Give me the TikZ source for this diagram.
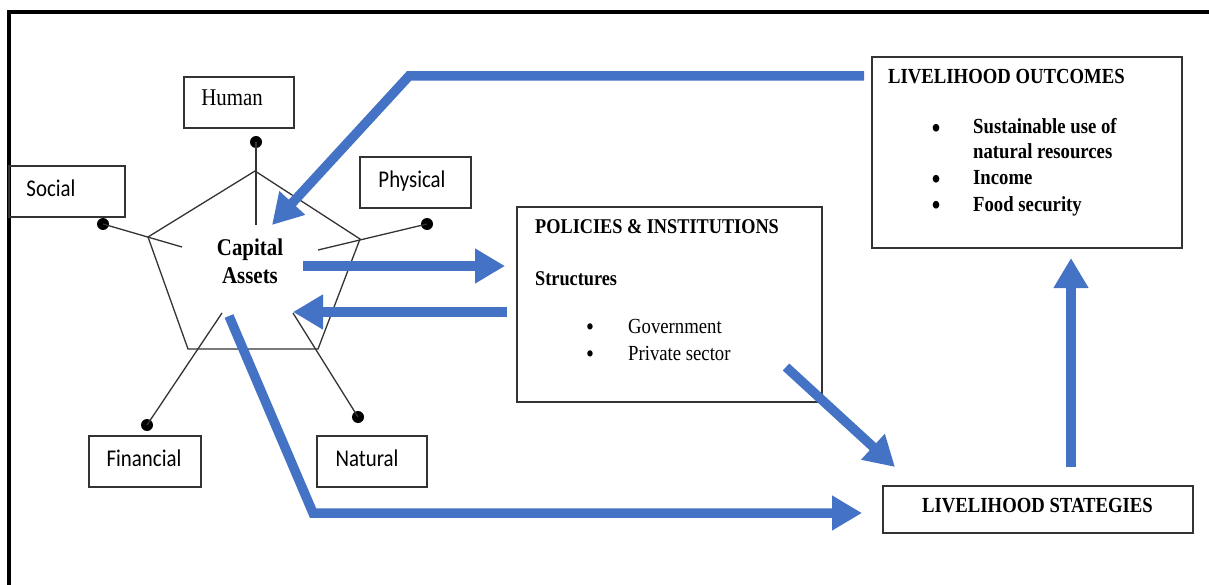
\documentclass[tikz,border=0pt]{standalone}
\usepackage{fontspec}
\setmainfont{Liberation Serif}[FakeStretch=0.87]
\newfontfamily\calib{Carlito}[FakeStretch=0.87]
\usetikzlibrary{arrows.meta}
\definecolor{arrowblue}{HTML}{4472C4}
\definecolor{boxgray}{HTML}{333333}
\begin{document}
\begin{tikzpicture}[x=1pt,y=-1pt,
  box/.style={draw=boxgray, line width=1.6pt, rectangle, inner sep=0pt},
  sanslbl/.style={inner sep=0pt, anchor=base, font=\calib\fontsize{24}{28}\selectfont},
  serlbl/.style={inner sep=0pt, anchor=base west, font=\fontsize{22}{26}\selectfont},
  bul/.style={inner sep=0pt, anchor=base, font=\bfseries\fontsize{28}{30}\selectfont},
  spoke/.style={draw=boxgray, line width=1.3pt},
  knob/.style={fill=black, circle, inner sep=0pt, minimum size=12pt},
  bluearrow/.style={draw=arrowblue, line width=9.5pt, miter limit=20, line join=miter,
    -{Triangle[length=30pt,width=33pt]}}]
\useasboundingbox (0,0) rectangle (1209,585);

% frame
\draw[line width=3.5pt] (9,585) -- (9,12) -- (1209,12);

% pentagon
\coordinate (p1) at (255,171);
\coordinate (p2) at (360,239);
\coordinate (p3) at (318,349);
\coordinate (p4) at (188,349);
\coordinate (p5) at (148,237);
\draw[spoke] (p1) -- (p2) -- (p3) -- (p4) -- (p5) -- cycle;

% asset boxes
\node[box, minimum width=110pt, minimum height=51pt] (human) at (239,102.5) {};
\node[box, minimum width=116pt, minimum height=51pt] (social) at (67,191.5) {};
\node[box, minimum width=111pt, minimum height=51pt] (physical) at (415.5,182.5) {};
\node[box, minimum width=112pt, minimum height=51pt] (financial) at (145,461.5) {};
\node[box, minimum width=110pt, minimum height=51pt] (natural) at (372,461.5) {};

\node[inner sep=0pt, anchor=base, font=\fontsize{24}{28}\selectfont] at (232,106) {Human};
\node[sanslbl] at (51,197) {Social};
\node[sanslbl] at (412,188) {Physical};
\node[sanslbl] at (144,466) {Financial};
\node[sanslbl] at (367,466) {Natural};

% spokes with knobs
\node[knob] (kh) at (256,142) {};
\node[knob] (ks) at (103,224) {};
\node[knob] (kp) at (427,224) {};
\node[knob] (kf) at (147,425) {};
\node[knob] (kn) at (358,417) {};
\coordinate (ih) at (256,225);
\coordinate (is) at (182,247);
\coordinate (ip) at (318,250);
\coordinate (if) at (222,313);
\coordinate (in) at (293,313);
\draw[spoke] (kh.center) -- (ih);
\draw[spoke] (ks.center) -- (is);
\draw[spoke] (kp.center) -- (ip);
\draw[spoke] (kf.center) -- (if);
\draw[spoke] (kn.center) -- (in);

% capital assets
\node[inner sep=0pt, anchor=base, font=\bfseries\fontsize{24}{28}\selectfont] (cap1) at (250,255) {Capital};
\node[inner sep=0pt, anchor=base, font=\bfseries\fontsize{24}{28}\selectfont] (cap2) at (250,283) {Assets};

% policies box
\node[box, minimum width=305pt, minimum height=195pt] (policies) at (669.5,304.5) {};
\node[serlbl, font=\bfseries\fontsize{21}{26}\selectfont] at (535,234) {POLICIES \& INSTITUTIONS};
\node[serlbl, font=\bfseries\fontsize{21}{26}\selectfont] at (535,285) {Structures};
\node[bul, font=\fontsize{26}{30}\selectfont] at (590,335) {•};
\node[bul, font=\fontsize{26}{30}\selectfont] at (590,362) {•};
\node[serlbl, font=\fontsize{21.5}{26}\selectfont] at (628,333) {Government};
\node[serlbl, font=\fontsize{21.5}{26}\selectfont] at (628,360) {Private sector};

% outcomes box
\node[box, minimum width=310pt, minimum height=191pt] (outcomes) at (1027,152.5) {};
\node[serlbl, font=\bfseries\fontsize{21.5}{26}\selectfont] at (888,84) {LIVELIHOOD OUTCOMES};
\node[bul] at (936,138) {•};
\node[bul] at (936,189) {•};
\node[bul] at (936,215) {•};
\node[serlbl, font=\bfseries\fontsize{21.5}{26}\selectfont] at (973,134) {Sustainable use of};
\node[serlbl, font=\bfseries\fontsize{21.5}{26}\selectfont] at (973,159) {natural resources};
\node[serlbl, font=\bfseries\fontsize{21.5}{26}\selectfont] at (973,185) {Income};
\node[serlbl, font=\bfseries\fontsize{21.5}{26}\selectfont] at (973,212) {Food security};

% strategies box
\node[box, minimum width=310pt, minimum height=47pt] (strategies) at (1038,509.5) {};
\node[inner sep=0pt, anchor=base, font=\bfseries\fontsize{21.5}{26}\selectfont] at (1037.5,512) {LIVELIHOOD STATEGIES};

% blue arrows
\coordinate (a1s) at (864,76);
\coordinate (a1c) at (409,76);
\coordinate (a1e) at (272,225);
\draw[bluearrow] (a1s) -- (a1c) -- (a1e);

\coordinate (a2s) at (303,266);
\coordinate (a2e) at (505,266);
\draw[bluearrow] (a2s) -- (a2e);

\coordinate (a3s) at (507,312);
\coordinate (a3e) at (293,312);
\draw[bluearrow] (a3s) -- (a3e);

\coordinate (a4s) at (229,316);
\coordinate (a4c) at (313,513);
\coordinate (a4e) at (862,513);
\draw[bluearrow] (a4s) -- (a4c) -- (a4e);

\coordinate (a5s) at (786,367);
\coordinate (a5e) at (895,467);
\draw[bluearrow] (a5s) -- (a5e);

\coordinate (a6s) at (1071,467);
\coordinate (a6e) at (1071,258);
\draw[bluearrow] (a6s) -- (a6e);
\end{tikzpicture}
\end{document}
